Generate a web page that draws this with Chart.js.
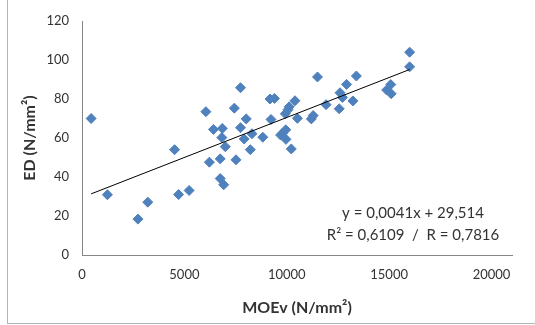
<!DOCTYPE html>
<html>
<head>
<meta charset="utf-8">
<script src="https://cdn.jsdelivr.net/npm/chart.js@4/dist/chart.umd.min.js"></script>
<style>
  html, body { margin: 0; padding: 0; background: #fff; }
  #wrap { position: relative; width: 535px; height: 325px; }
  #frame {
    position: absolute; left: 7px; top: 0; width: 528px; height: 323px;
    border-left: 1px solid #b4b4b4; border-bottom: 1px solid #b4b4b4;
    pointer-events: none;
  }
</style>
</head>
<body>
<div id="wrap">
  <canvas id="main-chart" width="535" height="325"></canvas>
  <div id="frame"></div>
</div>
<script>
// MOEv (N/mm2) vs ED (N/mm2)
const moev = [447, 1242, 2732, 3212, 4520, 4719, 5232, 6050, 6220, 6420,
  6750, 6750, 6850, 6830, 6920, 7000, 7440, 7520, 7740, 7740,
  7920, 8020, 8220, 8300, 8830, 9180, 9230, 9400, 9700, 9930,
  9950, 9960, 9800, 10060, 10120, 10220, 10400, 10520, 11200, 11290,
  11500, 11920, 12560, 12600, 12720, 12920, 13230, 13400, 14880, 15080,
  15100, 16000, 16000]
const ed = [70.0, 30.9, 18.4, 27.1, 54.0, 31.0, 33.1, 73.5, 47.6, 64.4,
  49.3, 39.2, 64.9, 60.2, 36.0, 55.5, 75.3, 48.8, 85.8, 65.3,
  59.5, 69.8, 54.0, 62.2, 60.4, 80.0, 69.5, 80.3, 61.5, 72.4,
  64.2, 59.3, 62.5, 74.5, 76.0, 54.4, 79.1, 70.1, 69.8, 71.5,
  91.3, 77.1, 75.0, 83.2, 80.8, 87.5, 79.0, 91.8, 84.6, 87.4,
  82.7, 104.0, 96.5]

const xTicks = [0, 5000, 10000, 15000, 20000]
const yTicks = [0, 20, 40, 60, 80, 100, 120]

// linear trendline y = slope*x + intercept
const slope = 0.0041
const intercept = 29.514
const eqLines = ['y = 0,0041x + 29,514', 'R\u00b2 = 0,6109  /  R = 0,7816']

let points = moev.map((x, i) => ({x: x, y: ed[i]}))
let xMin = Math.min(...moev)
let xMax = Math.max(...moev)
let trend = [
  {x: xMin, y: slope * xMin + intercept},
  {x: xMax, y: slope * xMax + intercept}
]

const FONT = 'Lato, "Liberation Sans", sans-serif'
const TEXT = '#333333'

let eqLabel = {
  id: 'eqLabel',
  afterDraw(chart) {
    let ctx = chart.ctx
    ctx.save()
    ctx.font = '15px ' + FONT
    ctx.fillStyle = TEXT
    ctx.textAlign = 'center'
    ctx.textBaseline = 'middle'
    ctx.fillText(eqLines[0], 413, 213)
    ctx.fillText(eqLines[1], 413, 235)
    ctx.restore()
  }
}

let source = document.getElementById('main-chart')
let repChart = new Chart(source, {
  type: 'scatter',
  data: {
    datasets: [{
      label: 'Trend',
      type: 'line',
      data: trend,
      borderColor: '#000000',
      borderWidth: 1,
      pointRadius: 0,
      fill: false,
      order: 0
    }, {
      label: 'ED',
      data: points,
      pointStyle: 'rectRot',
      pointRadius: 5,
      backgroundColor: '#4F81BD',
      borderColor: '#4F81BD',
      borderWidth: 1,
      order: 1
    }]
  },
  options: {
    responsive: false,
    animation: false,
    devicePixelRatio: 1,
    layout: { padding: { top: 21, right: 23, left: 0, bottom: 0 } },
    plugins: {
      legend: { display: false },
      tooltip: { enabled: false }
    },
    scales: {
      x: {
        type: 'linear',
        min: 0,
        max: 21000,
        afterBuildTicks: s => { s.ticks = xTicks.map(v => ({value: v})) },
        afterFit: s => { s.height = 70 },
        grid: { drawOnChartArea: false, drawTicks: false },
        border: { color: '#868686', width: 1 },
        ticks: {
          padding: 12, color: TEXT, font: { family: FONT, size: 13 },
          callback: v => String(v)
        },
        title: {
          display: true,
          text: 'MOEv (N/mm\u00b2)',
          color: TEXT,
          font: { family: FONT, size: 16, weight: 'bold' },
          padding: { top: 4, bottom: 8 }
        }
      },
      y: {
        min: 0,
        max: 120,
        afterBuildTicks: s => { s.ticks = yTicks.map(v => ({value: v})) },
        afterFit: s => { s.width = 82 },
        grid: { drawOnChartArea: false, drawTicks: false },
        border: { color: '#868686', width: 1 },
        ticks: { padding: 13, color: TEXT, font: { family: FONT, size: 13 } },
        title: {
          display: true,
          text: 'ED (N/mm\u00b2)',
          color: TEXT,
          font: { family: FONT, size: 16, weight: 'bold' },
          padding: { top: 20, bottom: 0 }
        }
      }
    }
  },
  plugins: [eqLabel]
})
</script>
</body>
</html>
